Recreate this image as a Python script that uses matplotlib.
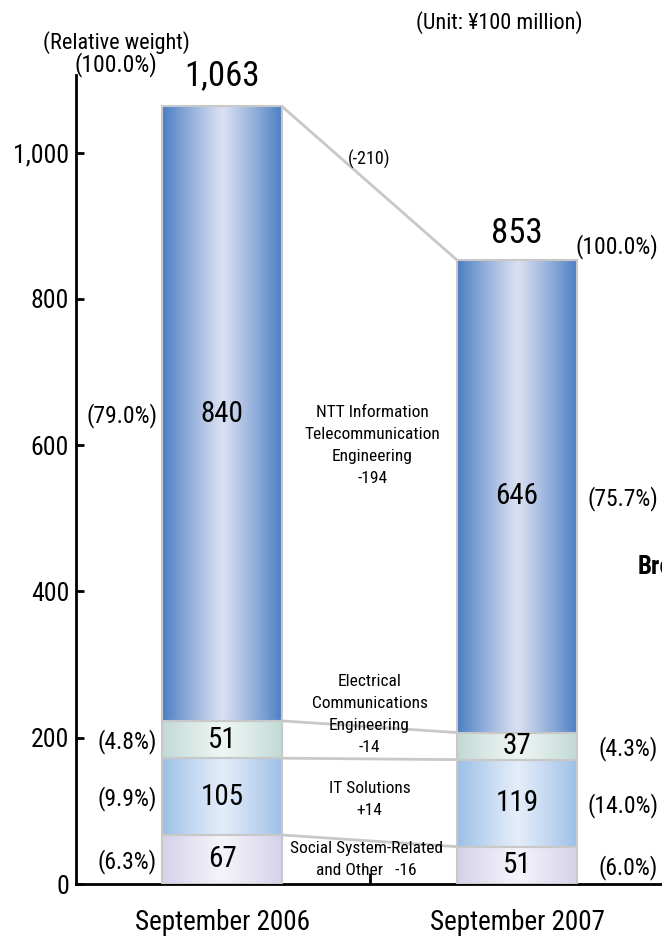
import numpy as np
import matplotlib
matplotlib.use("Agg")
import matplotlib.pyplot as plt
from matplotlib.colors import to_rgb

plt.rcParams['font.family'] = ['Roboto Condensed', 'Liberation Sans', 'DejaVu Sans']

# ---------------- DADOS ----------------
periods = ["September 2006", "September 2007"]
segments = ["Social System-Related and Other", "IT Solutions",
            "Electrical Communications Engineering",
            "NTT Information Telecommunication Engineering"]
values_2006 = [67, 105, 51, 840]
values_2007 = [51, 119, 37, 646]
share_2006 = ["(6.3%)", "(9.9%)", "(4.8%)", "(79.0%)"]
share_2007 = ["(6.0%)", "(14.0%)", "(4.3%)", "(75.7%)"]
totals = [1063, 853]
total_change = "(-210)"
change_labels = ["Social System-Related\nand Other   -16",
                 "IT Solutions\n+14",
                 "Electrical\nCommunications\nEngineering\n-14",
                 "NTT Information\nTelecommunication\nEngineering\n-194"]

# cores (borda, centro) do gradiente horizontal
grad_colors = [("#d5d1ea", "#f5f3fa"),
               ("#9cbfe7", "#e4edf9"),
               ("#c1d9d5", "#eff6f4"),
               ("#4a7ec3", "#dbe0f2")]

fig = plt.figure(figsize=(6.62, 9.43), dpi=100)
ax = fig.add_axes([76/662, 59/943, 1 - 76/662, 809/943])

xlim = (-0.495, 1.4915)
ylim = (0, 1106)
width = 0.407


def gradient_img(edge, center, n=200):
    e = np.array(to_rgb(edge))
    c = np.array(to_rgb(center))
    t = np.abs(np.linspace(-1, 1, n)) ** 1.1
    return (c[None, :] * (1 - t[:, None]) + e[None, :] * t[:, None])[None, :, :]


all_values = [values_2006, values_2007]
bounds = []
for i, vals in enumerate(all_values):
    bottoms = np.concatenate([[0], np.cumsum(vals)])
    bounds.append(bottoms)
    for k, v in enumerate(vals):
        y0, y1 = bottoms[k], bottoms[k + 1]
        img = gradient_img(*grad_colors[k])
        ax.imshow(img, extent=[i - width/2, i + width/2, y0, y1],
                  aspect='auto', interpolation='bilinear', zorder=2)
        ax.add_patch(plt.Rectangle((i - width/2, y0), width, v, fill=False,
                                   edgecolor="#c8c8c8", linewidth=1.5, zorder=3))
        ax.text(i, (y0 + y1) / 2, f"{v}", ha='center', va='center',
                fontsize=21, zorder=5)

# linhas de ligacao entre barras
for k in range(1, 5):
    ax.plot([width/2, 1 - width/2], [bounds[0][k], bounds[1][k]],
            color="#c8c8c8", linewidth=2, zorder=1, solid_capstyle='butt')

# percentuais
for k in range(4):
    c0 = (bounds[0][k] + bounds[0][k + 1]) / 2
    c1 = (bounds[1][k] + bounds[1][k + 1]) / 2
    ax.text(-0.22, c0 - 3, share_2006[k], ha='right', va='center', fontsize=17)
    ax.text(1.478, c1 - 3, share_2007[k], ha='right', va='center', fontsize=17)

# totais
ax.text(0, totals[0] + 42, f"{totals[0]:,}", ha='center', va='center',
        fontsize=25, clip_on=False)
ax.text(1, totals[1] + 36, f"{totals[1]:,}", ha='center', va='center',
        fontsize=25)
ax.text(1.478, totals[1] + 19, "(100.0%)", ha='right', va='center', fontsize=17)
ax.text(-0.22, 1120, "(100.0%)", ha='right', va='center', fontsize=17,
        clip_on=False)
ax.text(-0.359, 1151, "(Relative weight)", ha='center', va='center',
        fontsize=16, clip_on=False)
ax.text(0.939, 1178, "(Unit: ¥100 million)", ha='center', va='center',
        fontsize=16, clip_on=False)

# rotulos de variacao no meio
ax.text(0.498, 991, total_change, ha='center', va='center', fontsize=13)
mid_y = [34, 115, 232, 599]
mid_x = [0.49, 0.5, 0.5, 0.51]
for k in range(4):
    ax.text(mid_x[k], mid_y[k], change_labels[k], ha='center', va='center',
            fontsize=12.5, linespacing=1.58, zorder=4)

# texto cortado na borda direita (como no original)
ax.text(1.41, 434, "Breakdown", ha='left', va='center', fontsize=18,
        fontweight='bold', clip_on=False)
ax.text(1.485, 343, "(", ha='left', va='center', fontsize=17, clip_on=False)

# ---------------- EIXOS ----------------
ax.set_xlim(*xlim)
ax.set_ylim(*ylim)
ax.spines['top'].set_visible(False)
ax.spines['right'].set_visible(False)
ax.spines['left'].set_linewidth(2)
ax.spines['bottom'].set_linewidth(2)

ax.set_yticks([0, 200, 400, 600, 800, 1000])
ax.set_yticklabels(["0", "200", "400", "600", "800", "1,000"])
ax.tick_params(axis='y', direction='in', length=6, width=2, labelsize=18.5, pad=5)

ax.set_xticks([0, 1])
ax.set_xticklabels(periods)
ax.tick_params(axis='x', which='major', length=0, labelsize=19.5, pad=18)
ax.set_xticks([0.5], minor=True)
ax.tick_params(axis='x', which='minor', direction='in', length=8, width=2)

fig.savefig("out.png", dpi=100)
plt.close(fig)
